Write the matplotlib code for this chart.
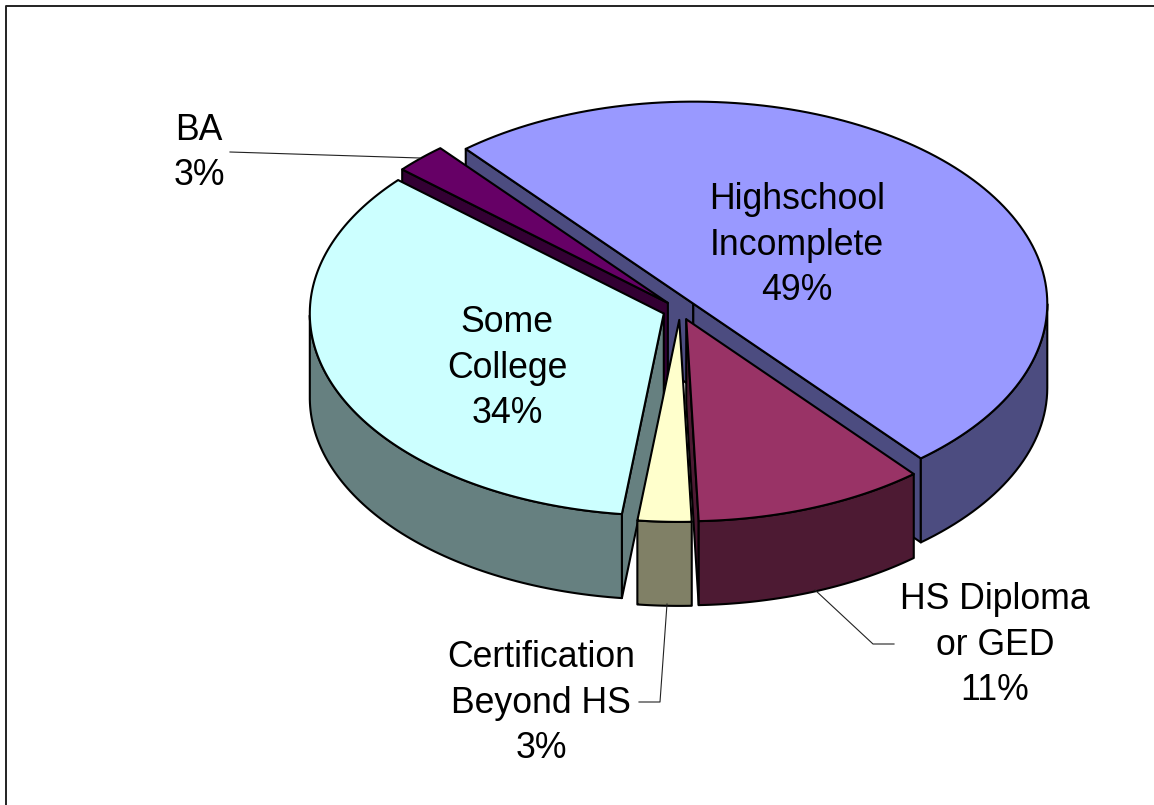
import numpy as np
import matplotlib
matplotlib.use('Agg')
import matplotlib.pyplot as plt
from matplotlib.patches import Polygon

plt.rcParams['font.family'] = ['Liberation Sans', 'DejaVu Sans']

# Slices, clockwise from the start angle.
categories = ['Highschool\nIncomplete', 'HS Diploma\nor GED', 'Certification\nBeyond HS', 'Some\nCollege', 'BA']
percents = [49, 11, 3, 34, 3]
# Shares as drawn in the picture (the 3D view stretches them a little).
shares = [50.0, 10.55, 2.45, 34.6, 2.4]
top_colors = ['#9999FF', '#993366', '#FFFFCC', '#CCFFFF', '#660066']
side_colors = ['#4C4C80', '#4D1A33', '#808066', '#668080', '#330033']

# Label centres in pixels.
label_x = [797, 995, 541, 507, 199]
label_y = [245, 645, 703, 368, 153]

# Leader lines in pixels.
leader_lines = [
    ([230, 420], [152, 158]),
    ([639, 660, 667], [702, 702, 604]),
    ([894, 873, 815], [644, 644, 590]),
]

# Pie geometry in pixels.
cx, cy = 680, 310
rx, ry = 354, 202
depth = 84
explode = 0.049
start_angle = 130

# Draw order, back to front.
draw_order = [0, 4, 3, 1, 2]

fig = plt.figure(figsize=(11.54, 8.05), dpi=100)
ax = fig.add_axes([0, 0, 1, 1])
ax.set_xlim(0, 1154)
ax.set_ylim(805, 0)
ax.axis('off')

# Only the left and top of the chart frame are in the picture.
ax.plot([5.5, 5.5, 1154], [805, 6.5, 6.5], color='#222222', lw=1.4)


def rim(ox, oy, ang):
    a = np.radians(ang)
    return np.column_stack([ox + rx * np.cos(a), oy - ry * np.sin(a)])


def add_poly(pts, color, z):
    ax.add_patch(Polygon(pts, closed=True, facecolor=color, edgecolor='black',
                         lw=1.5, joinstyle='round', zorder=z))


def cross(u, v):
    return u[0] * v[1] - u[1] * v[0]


edges = start_angle - np.cumsum([0] + shares) * 3.6

for z, i in enumerate(draw_order):
    a0, a1 = edges[i], edges[i + 1]
    mid = np.radians((a0 + a1) / 2)
    ox = cx + explode * rx * np.cos(mid)
    oy = cy - explode * ry * np.sin(mid)
    arc = rim(ox, oy, np.linspace(a0, a1, 120))
    apex = np.array([ox, oy])
    drop = np.array([0, depth])
    inner = arc[60] - apex

    # Cut faces, only when the drop falls outside the top face.
    for end in (arc[0], arc[-1]):
        if np.sign(cross(end - apex, drop)) != np.sign(cross(end - apex, inner)):
            add_poly(np.vstack([apex, end, end + drop, apex + drop]), side_colors[i], z * 3 + 2)

    # Outer wall, only the part that faces the viewer.
    sin_a = np.sin(np.radians(np.linspace(a0, a1, 120)))
    front = arc[sin_a <= 0]
    if len(front) > 1:
        add_poly(np.vstack([front, front[::-1] + drop]), side_colors[i], z * 3 + 3)

    # Top face.
    add_poly(np.vstack([apex, arc]), top_colors[i], z * 3 + 4)

    ax.text(label_x[i], label_y[i], f'{categories[i]}\n{percents[i]}%',
            ha='center', va='center', fontsize=25.7, linespacing=1.38,
            color='black', zorder=50)

for xs, ys in leader_lines:
    ax.plot(xs, ys, color='#222222', lw=0.8, zorder=40)

fig.savefig('out.png', dpi=100, facecolor='white')
